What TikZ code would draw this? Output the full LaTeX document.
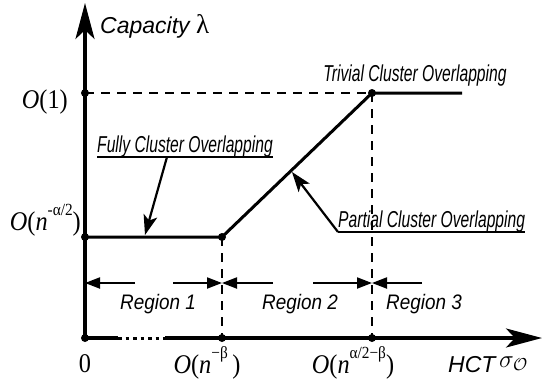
\documentclass[tikz,border=0pt]{standalone}
\usepackage{fontspec}
\setmainfont{Liberation Serif}
\newfontfamily\axisfont{Liberation Sans}
\newfontfamily\annofont[FakeStretch=0.68]{Liberation Sans}
\newfontfamily\regionfont[FakeStretch=0.9]{Liberation Sans}
\newfontfamily\olabfont[FakeStretch=0.9]{Liberation Serif}
\usetikzlibrary{arrows.meta}
\newcommand{\suplab}[1]{\raisebox{0.55em}{\fontsize{17}{17}\selectfont #1}}
\newcommand{\olab}[1]{{\olabfont\fontsize{27}{27}\selectfont #1}}

\begin{document}
\begin{tikzpicture}[x=1pt,y=-1pt,
  axis/.style={line width=3.2pt},
  axisarrow/.style={line width=3.2pt,-{Stealth[length=36pt,width=19pt,inset=9pt]}},
  curve/.style={line width=3pt},
  guide/.style={line width=2.4pt,dash pattern=on 9pt off 7pt},
  regarrow/.style={line width=2pt,-{Triangle[length=15pt,width=11pt]}},
  leader/.style={line width=2.2pt,-{Stealth[length=20pt,width=14pt,inset=5pt]}},
  uline/.style={line width=2.2pt},
  anno/.style={inner sep=0pt,font=\annofont\itshape\fontsize{23}{23}\selectfont},
  region/.style={inner sep=0pt,anchor=base,font=\regionfont\itshape\fontsize{21}{21}\selectfont}]
  \useasboundingbox (0,0) rectangle (550,381);

  % Key points
  \coordinate (orig) at (85,338);
  \coordinate (ytip) at (85,3);
  \coordinate (xtip) at (542,338);
  \coordinate (gapL) at (118,338);
  \coordinate (gapR) at (165,338);
  \coordinate (ytop) at (85,93);
  \coordinate (ylow) at (85,237);
  \coordinate (knee) at (222,237);
  \coordinate (peak) at (372,93);
  \coordinate (flat) at (462,93);
  \coordinate (xb) at (222,338);
  \coordinate (xc) at (372,338);

  % Axes
  \draw[axisarrow] (orig) -- (ytip);
  \draw[axis] (orig) -- (gapL);
  \draw[axis,line width=3pt,dash pattern=on 3.5pt off 4pt] (gapL) -- (gapR);
  \draw[axisarrow] (gapR) -- (xtip);

  % Capacity curve
  \draw[curve] (ylow) -- (knee) -- (peak) -- (flat);

  % Guides
  \draw[guide] (ytop) -- (peak);
  \draw[guide] (knee) -- (xb);
  \draw[guide] (peak) -- (xc);

  % Dots
  \foreach \p in {orig,ytop,ylow,knee,peak,xb,xc}
    \fill (\p) circle (4);

  % Regions
  \coordinate (r1a) at (135,283);
  \coordinate (r1b) at (85,283);
  \coordinate (r2a) at (173,283);
  \coordinate (r2b) at (222,283);
  \coordinate (r3a) at (273,283);
  \coordinate (r4a) at (313,283);
  \coordinate (r4b) at (372,283);
  \coordinate (r5a) at (422,283);
  \draw[regarrow] (r1a) -- (r1b);
  \draw[regarrow] (r2a) -- (r2b);
  \draw[regarrow] (r3a) -- (r2b);
  \draw[regarrow] (r4a) -- (r4b);
  \draw[regarrow] (r5a) -- (r4b);
  \node[region] (reg1) at (158,309) {Region 1};
  \node[region] (reg2) at (300,309) {Region 2};
  \node[region] (reg3) at (424,309) {Region 3};

  % Axis labels
  \node[anchor=base west,inner sep=0pt] (ylab) at (100,33)
    {\axisfont\itshape\fontsize{23}{23}\selectfont Capacity {\rmfamily\upshape\fontsize{27}{27}\selectfont λ}};
  \node[anchor=base west,inner sep=0pt] (xlab) at (448,372)
    {\axisfont\itshape\fontsize{23}{23}\selectfont HCT};
  \node[anchor=base west,inner sep=0pt] (xsig) at (499,367)
    {\fontsize{24}{24}\selectfont$\sigma_{\mathcal{O}}$};
  \node[anchor=base east,inner sep=0pt] (lab1) at (68,108) {\olab{\textit{O}(1)}};
  \node[anchor=base east,inner sep=0pt] (lab2) at (81,230)
    {\olab{\textit{O}(\textit{n}\suplab{-α/2})}};
  \node[anchor=base,inner sep=0pt] (lab0) at (85,372) {\olab{0}};
  \node[anchor=base,inner sep=0pt] (lab3) at (207,373)
    {\olab{\textit{O}(\textit{n}\suplab{−β}\,)}};
  \node[anchor=base,inner sep=0pt] (lab4) at (353,373)
    {\olab{\textit{O}(\textit{n}\suplab{α/2−β})}};

  % Annotations
  \node[anno,anchor=base] (trivial) at (415,81) {Trivial Cluster Overlapping};
  \node[anno,anchor=base west] (fully) at (97,152) {Fully Cluster Overlapping};
  \node[anno,anchor=base west] (partial) at (338,227) {Partial Cluster Overlapping};
  \draw[uline] ([yshift=-5pt]fully.base west) -- ([yshift=-5pt]fully.base east);
  \draw[uline] ([yshift=-5pt]partial.base west) -- ([yshift=-5pt]partial.base east);
  \coordinate (fullyfoot) at (167,157);
  \coordinate (fullytip) at (145,235);
  \coordinate (partialtip) at (292,172);
  \draw[leader] (fullyfoot) -- (fullytip);
  \draw[leader] ([yshift=-5pt]partial.base west) -- (partialtip);
\end{tikzpicture}
\end{document}
